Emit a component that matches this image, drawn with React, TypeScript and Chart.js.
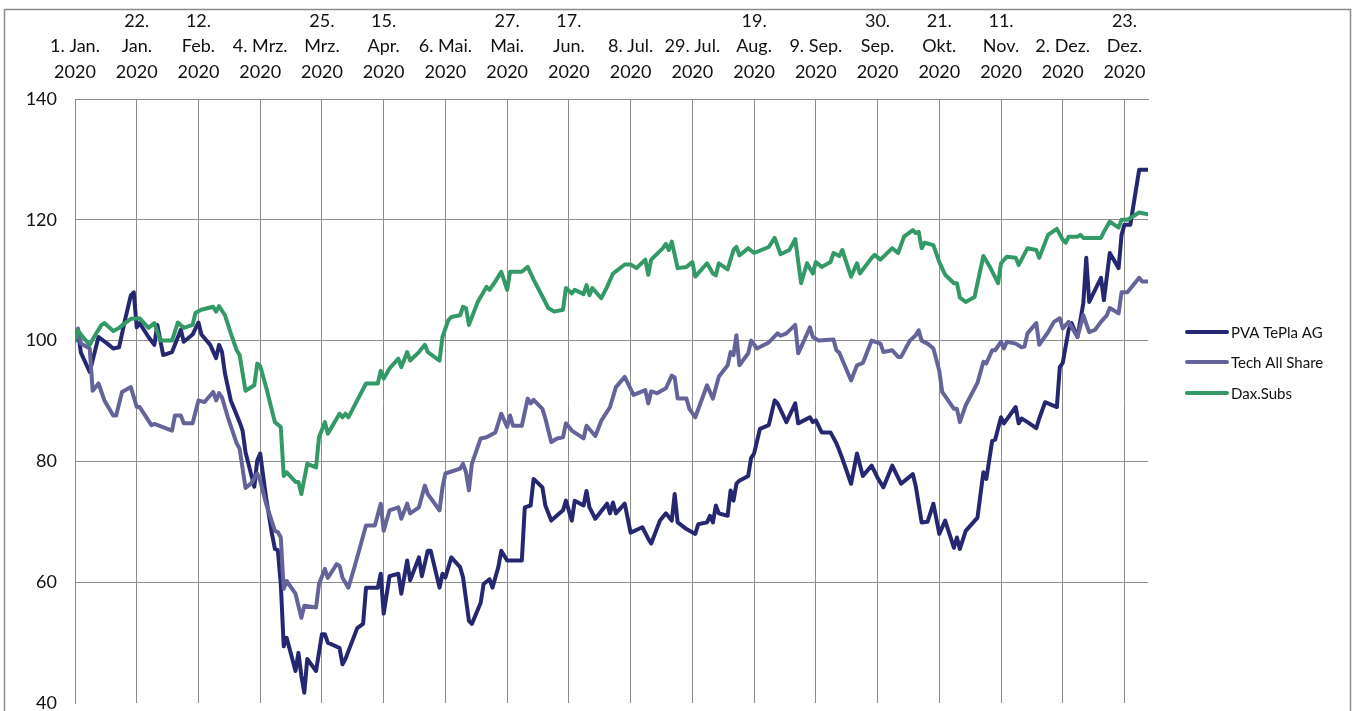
import React, { useEffect, useRef } from "react";
import { Chart, registerables } from "chart.js";

Chart.register(...registerables);

// x axis: day offset from 1 Jan 2020; ticks every 21 days
const tickDays = [0, 21, 42, 63, 84, 105, 126, 147, 168, 189, 210, 231, 252, 273, 294, 315, 336, 357];
const tickLabels: string[][] = [
  ["1. Jan.", "2020"],
  ["22.", "Jan.", "2020"],
  ["12.", "Feb.", "2020"],
  ["4. Mrz.", "2020"],
  ["25.", "Mrz.", "2020"],
  ["15.", "Apr.", "2020"],
  ["6. Mai.", "2020"],
  ["27.", "Mai.", "2020"],
  ["17.", "Jun.", "2020"],
  ["8. Jul.", "2020"],
  ["29. Jul.", "2020"],
  ["19.", "Aug.", "2020"],
  ["9. Sep.", "2020"],
  ["30.", "Sep.", "2020"],
  ["21.", "Okt.", "2020"],
  ["11.", "Nov.", "2020"],
  ["2. Dez.", "2020"],
  ["23.", "Dez.", "2020"],
];
const yTicks = [40, 60, 80, 100, 120, 140];

const seriesNames = ["PVA TePla AG", "Tech All Share", "Dax.Subs"];

const pvaDays = [0,1,2,5,8,11,13,15,17,19,20,21,22,25,27,28,30,33,36,37,40,42,43,46,48,49,50,51,53,56,57,58,61,62,63,65,67,68,69,70,71,72,75,76,77,78,79,82,84,85,86,90,91,92,96,98,99,103,104,105,107,110,111,113,114,117,118,120,121,124,125,126,128,131,132,134,135,138,139,141,142,144,145,147,152,153,155,156,159,160,162,166,167,169,170,173,174,175,177,181,182,183,184,187,189,193,195,196,199,201,203,204,205,208,211,212,215,216,217,218,219,222,223,224,225,226,229,230,231,233,236,238,239,242,245,246,250,251,252,254,257,259,260,261,264,266,268,271,273,275,278,281,285,286,288,290,292,294,296,299,300,301,303,307,309,310,312,313,315,316,320,321,322,324,327,328,330,334,335,336,338,339,341,343,344,345,349,350,352,355,356,357,359,362,365];
const pvaValues = [100,101.6,98,94.8,100.6,99.5,98.7,98.9,103.4,107.5,108,102.2,102.9,100.6,99.3,102.6,97.6,98.1,101.8,99.8,101,103,101,99.3,97.1,99.3,98.1,94.6,90.1,86.5,85.1,81.5,75.8,80.2,81.3,74,68,65.5,65.3,59.7,49.4,50.8,45.3,48.3,44.5,41.7,47.3,45.3,51.4,51.4,50,49.1,46.4,47.3,52.4,53.1,59.1,59.1,61.4,54.8,61,61.4,58.1,63.6,60.3,64.1,61,65.2,65.2,59.1,61.4,60.8,64.1,62.5,60.8,53.6,53.1,56.6,59.7,60.5,59.1,62.5,65.2,63.6,63.6,72.4,72.7,77.1,75.7,72.7,70.2,71.9,73.5,70.2,73.5,72.7,75.1,72.4,70.5,73,71.4,73.2,71.4,73,68.2,69.1,67.2,66.4,70.2,71.4,70.2,74.6,69.9,68.8,68,69.6,69.9,71,69.9,72.7,71.4,71,75.2,73.5,76.3,76.8,77.6,80.6,81.3,85.4,86,90.1,89.6,86.5,89.6,86.3,87.3,86.5,86.8,84.8,84.8,83,81.8,80.5,76.3,81.3,77.6,79.3,77.3,75.7,79.3,76.3,77.9,75.9,69.9,70,73,68,70.2,65.7,67.4,65.5,68.5,70.7,78.2,77.1,83.4,83.6,87.3,86.3,89,86.3,87.1,86.5,85.5,87.1,89.8,89,95.6,96.3,101.8,102.9,100.6,106.2,113.7,106.4,110.4,106.7,114.5,112,117.5,119.2,119.2,128.3,128.3];

const techDays = [0,1,2,5,6,8,10,13,14,16,19,21,22,26,27,33,34,36,37,40,42,44,47,48,49,50,52,55,56,58,60,62,63,65,68,69,70,71,72,75,77,78,82,83,85,86,89,90,91,93,95,99,102,104,105,107,110,111,113,114,117,119,120,124,125,126,131,132,133,134,135,138,140,143,145,147,148,149,152,154,155,156,159,160,162,164,166,167,169,173,174,177,179,182,184,187,190,194,195,196,198,201,203,204,205,208,209,211,215,217,219,222,223,224,225,226,229,230,232,236,239,240,242,245,246,248,250,251,253,258,259,260,264,266,268,271,274,275,278,280,281,284,286,287,288,290,292,294,295,299,300,301,303,307,309,310,312,313,315,316,317,320,322,323,324,327,328,331,333,335,336,338,341,343,345,347,349,351,352,355,356,358,362,363,365];
const techValues = [100,102,99.5,98.7,91.7,92.9,90.1,87.6,87.6,91.5,92.3,89,89,86,86.2,85.1,87.6,87.6,86.3,86.3,90.1,89.8,91.5,90.1,91.3,90.6,87.3,83,82.1,75.6,76.4,78,76.8,73,68.5,68.3,67.4,58.9,60.2,58.1,54.1,56.1,55.8,59.7,62.2,60.7,63,62.7,60.7,59.1,62.4,69.4,69.4,73,68.5,71.9,72.4,70.5,73,71.4,72.4,76,74.6,71.9,75.7,78,78.8,79.6,78.2,75.2,79.6,83.8,84,84.8,87.9,85.7,87.6,85.9,85.9,90.4,89.6,90.2,88.7,87.1,83.2,83.8,84,86.3,85.1,83.8,85.9,84.2,86.7,89,92.3,94,91,91.8,89.6,91.6,91.3,92.1,94.2,93.9,90.4,90.4,88.7,87.3,92.6,90.4,94,95.9,98.1,97.6,100.9,95.9,97.9,100,98.7,99.7,101.2,100.8,101.2,102.6,97.9,100,102.2,100.6,100,100.2,98.4,98,93.4,95.9,96.3,100,99.5,98.1,98.4,97.3,97.3,100,100.9,101.7,100,99.5,98.7,95,91.5,88.7,88.7,86.5,89.3,93,96.5,96.2,98.4,98.4,99.8,98.7,99.8,99.5,98.9,99,101.2,102.9,99.3,101.4,103.1,103.7,102,103.1,100.6,104.2,101.4,101.8,103.1,104.2,105.4,104.5,108,108,110.4,109.8,109.8];

const daxDays = [0,1,3,5,7,9,10,13,15,17,19,22,25,27,29,33,35,37,40,41,43,47,48,49,51,53,55,56,58,61,62,63,65,68,70,71,72,75,76,77,79,82,83,85,86,90,91,92,93,96,99,103,104,105,107,110,111,113,114,117,119,120,124,125,127,128,131,132,133,134,137,140,141,143,145,147,148,152,154,156,159,161,163,166,167,169,170,173,174,175,176,179,181,183,187,189,191,194,195,196,200,201,202,203,205,208,210,211,215,217,218,219,222,224,225,226,229,231,236,238,240,243,245,247,249,251,252,254,257,258,260,261,264,266,267,271,272,274,278,280,282,285,286,287,288,289,292,294,296,299,300,301,303,306,307,309,311,314,315,317,320,321,324,327,328,331,334,336,337,338,341,342,343,349,350,352,355,356,358,362,365];
const daxValues = [100,101.7,100.4,99.3,101,102.6,102.9,101.6,102.1,102.9,103.6,103.7,102.1,102.9,100,100,103,102.1,102.6,104.6,105.1,105.6,104.8,105.7,104.2,101.2,98.4,97.6,91.7,92.6,96.2,95.8,92.3,86.5,85.7,77.6,78.2,76.6,76.6,74.6,79.6,79,84,86.5,84.6,87.9,87.3,87.9,87.3,90.1,92.9,92.9,95,93.7,95.4,97,95.6,98.1,96.7,98.1,99.3,98.1,96.7,100.6,103.4,103.9,104.2,105.6,105.4,102.6,106.4,108.9,108.4,109.8,111.4,108.4,111.4,111.4,112.2,110.1,107.3,105.4,104.8,105.1,108.7,107.8,108.4,107.7,109.2,107.5,108.7,107,108.9,111.1,112.6,112.6,112,113.4,110.9,113.4,115.3,116,115,116.4,112,112.2,113,110.6,112.8,111.1,110.8,112.8,111.8,115,115.5,114.1,115.3,114.5,115.5,117,114.3,115,116.8,109.5,112.8,111.1,113,112.2,113,114.5,114,115,110.6,112.8,111.1,113.7,114.2,113.4,115.3,114.5,117.2,118.3,117.8,118,115.3,116.2,115.8,113,110.9,109.5,109.5,107.1,106.4,107.2,109.5,114,112.4,109.5,112.8,113.9,113.7,112.5,115.3,115,113.7,117.5,118.5,116.7,116.2,117.2,117.2,117.5,117,117,118,119.7,118.7,120,120,121.2,120.9];

const seriesColors = ["#252870", "#64649b", "#339966"];
const gridColor = "#8c8c8c";
const textColor = "#111111";
const FONT = "Lato, 'Open Sans', 'Liberation Sans', sans-serif";

const toPoints = (days: number[], values: number[]) => days.map((d, i) => ({ x: d, y: values[i] }));

const framePlugin = {
  id: "frame",
  beforeDraw(chart: any) {
    const ctx = chart.ctx;
    ctx.save();
    ctx.fillStyle = "#ffffff";
    ctx.fillRect(0, 0, chart.width, chart.height);
    ctx.strokeStyle = "#8a8a8a";
    ctx.lineWidth = 1.5;
    ctx.strokeRect(4.5, 9.5, 1346, 760);
    ctx.restore();
  },
};

const legendPlugin = {
  id: "customLegend",
  afterDraw(chart: any) {
    const ctx = chart.ctx;
    const ys = [332, 362, 393];
    ctx.save();
    ctx.font = `15px ${FONT}`;
    ctx.textBaseline = "middle";
    ctx.textAlign = "left";
    seriesNames.forEach((name, i) => {
      ctx.strokeStyle = seriesColors[i];
      ctx.lineWidth = 4;
      ctx.lineCap = "round";
      ctx.beginPath();
      ctx.moveTo(1187, ys[i]);
      ctx.lineTo(1227, ys[i]);
      ctx.stroke();
      ctx.fillStyle = textColor;
      ctx.fillText(name, 1231, ys[i] + 1);
    });
    ctx.restore();
  },
};

export default function App() {
  const canvasRef = useRef<HTMLCanvasElement>(null);

  useEffect(() => {
    const canvas = canvasRef.current;
    if (!canvas) return;
    const allDays = [pvaDays, techDays, daxDays];
    const allValues = [pvaValues, techValues, daxValues];
    const orders = [2, 1, 0];
    const chart = new Chart(canvas, {
      type: "line",
      data: {
        datasets: seriesNames.map((name, i) => ({
          label: name,
          data: toPoints(allDays[i], allValues[i]),
          borderColor: seriesColors[i],
          backgroundColor: seriesColors[i],
          borderWidth: 4,
          borderJoinStyle: "round" as const,
          borderCapStyle: "round" as const,
          pointRadius: 0,
          tension: 0,
          fill: false,
          order: orders[i],
        })),
      },
      options: {
        animation: false,
        responsive: false,
        maintainAspectRatio: false,
        layout: { padding: { left: 0, top: 0, right: 209, bottom: 8 } },
        plugins: {
          legend: { display: false },
          tooltip: { enabled: false },
        },
        scales: {
          x: {
            type: "linear",
            position: "top",
            min: 0,
            max: 365,
            afterBuildTicks: (scale: any) => {
              scale.ticks = tickDays.map((v) => ({ value: v }));
            },
            afterFit: (scale: any) => {
              scale.height = 99;
              scale.paddingLeft = 0;
              scale.paddingRight = 0;
              scale.paddingTop = 0;
              scale.paddingBottom = 0;
            },
            ticks: {
              autoSkip: false,
              maxRotation: 0,
              minRotation: 0,
              padding: 14,
              color: textColor,
              font: { family: FONT, size: 18, lineHeight: 1.42 },
              callback: (_v: any, i: number) => tickLabels[i],
            },
            grid: { color: gridColor, lineWidth: 1, drawTicks: false },
            border: { color: gridColor, width: 1 },
          },
          y: {
            min: 40,
            max: 140,
            afterBuildTicks: (scale: any) => {
              scale.ticks = yTicks.map((v) => ({ value: v }));
            },
            afterFit: (scale: any) => {
              scale.width = 75;
              scale.paddingTop = 0;
              scale.paddingBottom = 0;
              scale.paddingLeft = 0;
              scale.paddingRight = 0;
            },
            ticks: {
              padding: 18,
              color: textColor,
              font: { family: FONT, size: 18 },
            },
            grid: {
              color: (c: any) => (c.tick && c.tick.value === 40 ? "rgba(0,0,0,0)" : gridColor),
              lineWidth: 1,
              drawTicks: false,
            },
            border: { color: gridColor, width: 1 },
          },
        },
      },
      plugins: [framePlugin, legendPlugin],
    });
    return () => chart.destroy();
  }, []);

  return (
    <div style={{ position: "fixed", left: 0, top: 0, width: 1357, height: 711, background: "#fff" }}>
      <canvas ref={canvasRef} width={1357} height={711} style={{ width: 1357, height: 711, display: "block" }} />
    </div>
  );
}
